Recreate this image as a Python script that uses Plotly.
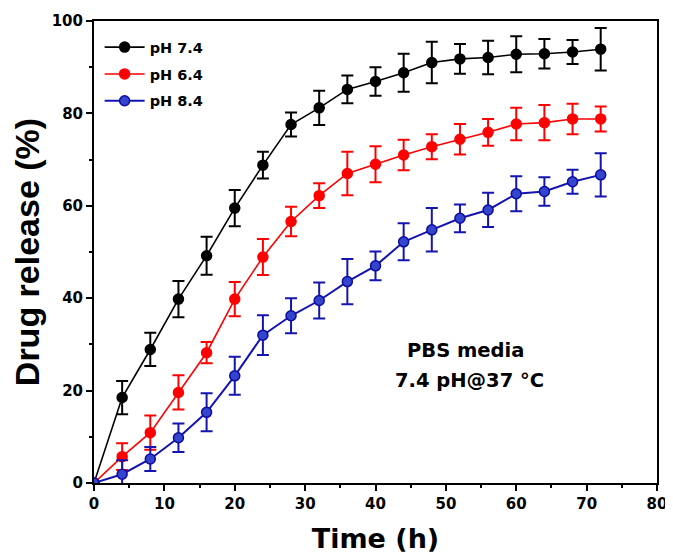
import plotly.graph_objects as go

time_h = [0, 4, 8, 12, 16, 20, 24, 28, 32, 36, 40, 44, 48, 52, 56, 60, 64, 68, 72]

ph74 = [0, 18.5, 28.9, 39.8, 49.2, 59.5, 68.8, 77.6, 81.2, 85.2, 86.9, 88.8, 91.0, 91.8, 92.1, 92.8, 92.9, 93.3, 93.9]
ph74_err = [0, 3.6, 3.6, 3.9, 4.1, 3.9, 2.9, 2.6, 3.7, 3.0, 3.1, 4.1, 4.5, 3.2, 3.6, 3.9, 3.2, 2.6, 4.6]

ph64 = [0, 5.7, 10.9, 19.6, 28.2, 39.8, 48.9, 56.6, 62.2, 67.0, 69.0, 71.0, 72.8, 74.4, 75.9, 77.7, 78.0, 78.8, 78.8]
ph64_err = [0, 2.9, 3.7, 3.7, 2.3, 3.7, 3.9, 3.2, 2.7, 4.7, 3.9, 3.3, 2.7, 3.3, 2.9, 3.5, 3.8, 3.3, 2.7]

ph84 = [0, 1.9, 5.2, 9.8, 15.3, 23.2, 32.0, 36.2, 39.5, 43.6, 47.0, 52.2, 54.8, 57.3, 59.1, 62.6, 63.1, 65.2, 66.7]
ph84_err = [0, 3.0, 2.6, 3.1, 4.1, 4.1, 4.3, 3.8, 3.9, 4.9, 3.1, 4.0, 4.7, 3.0, 3.7, 3.8, 3.1, 2.6, 4.7]

series_names = ["pH 7.4", "pH 6.4", "pH 8.4"]

WIDE = "DejaVu Sans, sans-serif"
ARIAL = "Liberation Sans, Arial, sans-serif"

fig = go.Figure()

def add(name, y, err, color, fill, lw, mline):
    fig.add_trace(go.Scatter(
        x=time_h, y=y, name=name, mode="lines+markers", legendgroup=name,
        line=dict(color=color, width=lw),
        marker=dict(symbol="circle", size=10, color=fill, line=dict(color=mline, width=1.5)),
        error_y=dict(type="data", array=err, visible=True, color=color, thickness=2, width=6),
    ))

add(series_names[0], ph74, ph74_err, "#000000", "#000000", 1.6, "#000000")
add(series_names[1], ph64, ph64_err, "#ff0000", "#ff0000", 1.6, "#ff0000")
add(series_names[2], ph84, ph84_err, "#1414b0", "#3444cc", 2.0, "#0c0ca0")

# page body has an 8px margin, so margins are shifted to keep the plot area in place
fig.update_layout(
    width=673, height=559,
    margin=dict(l=86, r=24, t=13, b=84),
    paper_bgcolor="white", plot_bgcolor="white",
    font=dict(family=WIDE, color="black"),
    showlegend=True,
    legend=dict(x=0.01, y=0.978, xanchor="left", yanchor="top",
                bgcolor="rgba(0,0,0,0)", borderwidth=0,
                font=dict(family=WIDE, size=14.5, color="black", weight="bold"),
                tracegroupgap=5, itemwidth=40),
)

fig.update_xaxes(
    range=[0, 80], tickmode="linear", tick0=0, dtick=10, automargin=False,
    showline=True, linecolor="black", linewidth=2, mirror=True,
    ticks="outside", ticklen=6, tickwidth=1.5, tickcolor="black",
    minor=dict(ticks="outside", ticklen=3, tickwidth=1.5, tickcolor="black", dtick=5),
    showgrid=False, zeroline=False,
    tickfont=dict(family=WIDE, size=15, color="black", weight="bold"),
    title=dict(text="Time (h)", font=dict(family=WIDE, size=27, color="black", weight="bold"), standoff=17),
)
fig.update_yaxes(
    range=[0, 100], tickmode="linear", tick0=0, dtick=20, automargin=False,
    showline=True, linecolor="black", linewidth=2, mirror=True,
    ticks="outside", ticklen=6, tickwidth=1.5, tickcolor="black",
    minor=dict(ticks="outside", ticklen=3, tickwidth=1.5, tickcolor="black", dtick=10),
    showgrid=False, zeroline=False,
    tickfont=dict(family=WIDE, size=15, color="black", weight="bold"),
    title=dict(text="Drug release (%)", font=dict(family=ARIAL, size=34, color="black", weight="bold"), standoff=8),
)

fig.add_annotation(x=52.8, y=28.7, xref="x", yref="y", text="PBS media", showarrow=False,
                   font=dict(family=WIDE, size=19.5, color="black", weight="bold"))
fig.add_annotation(x=53.4, y=22.1, xref="x", yref="y", text="7.4 pH@37 °C", showarrow=False,
                   font=dict(family=WIDE, size=19.5, color="black", weight="bold"))

fig.write_html("out.html")
